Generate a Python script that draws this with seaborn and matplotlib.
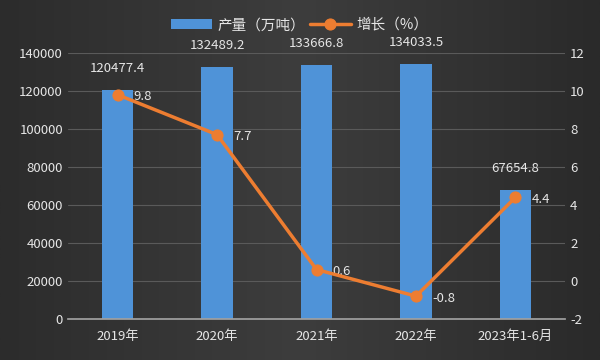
import matplotlib
matplotlib.use("Agg")
import matplotlib.pyplot as plt
import seaborn as sns
import numpy as np
import pandas as pd
from matplotlib.colors import LinearSegmentedColormap

categories = ["2019年", "2020年", "2021年", "2022年", "2023年1-6月"]
output = [120477.4, 132489.2, 133666.8, 134033.5, 67654.8]
growth = [9.8, 7.7, 0.6, -0.8, 4.4]
output_labels = ["120477.4", "132489.2", "133666.8", "134033.5", "67654.8"]
growth_labels = ["9.8", "7.7", "0.6", "-0.8", "4.4"]

sns.set_theme(style="dark")
plt.rcParams['font.family'] = ['Noto Sans CJK SC', 'DejaVu Sans']
plt.rcParams['axes.unicode_minus'] = False

fig = plt.figure(figsize=(6, 3.6), dpi=100)
bg = fig.add_axes([0, 0, 1, 1], zorder=-10)
grad = np.linspace(0, 1, 256).reshape(1, -1)
cmap = LinearSegmentedColormap.from_list("bg", ["#2c2c2c", "#3d3d3d", "#2a2a2a"])
bg.imshow(grad, aspect="auto", cmap=cmap, extent=[0, 1, 0, 1])
bg.set_axis_off()

ax = fig.add_axes([0.113, 0.114, 0.829, 0.739])
ax.patch.set_alpha(0)
df = pd.DataFrame({"cat": categories, "val": output})
sns.barplot(data=df, x="cat", y="val", color="#4f93d8", width=0.32, ax=ax,
            saturation=1, label="产量（万吨）", zorder=2, linewidth=0, edgecolor="none")
ax.set_ylim(0, 140000)
ax.set_yticks(np.arange(0, 140001, 20000))
ax.set_xlim(-0.5, 4.5)
ax.grid(axis="y", color="#5a5a5a", linewidth=0.8, zorder=0)
ax.set_axisbelow(True)
ax.set_xlabel("")
ax.set_ylabel("")
for s in ["top", "right", "left"]:
    ax.spines[s].set_visible(False)
ax.spines["bottom"].set_color("#a0a0a0")
ax.tick_params(axis="both", colors="#e0e0e0", labelsize=9.5, length=0)
for lbl in ax.get_xticklabels() + ax.get_yticklabels():
    lbl.set_color("#e6e6e6")
ax.tick_params(axis="x", pad=8)

for i, (v, t) in enumerate(zip(output, output_labels)):
    ax.text(i, v + 8000, t, ha="center", va="bottom", color="#e6e6e6", fontsize=9.5)

ax2 = ax.twinx()
sns.lineplot(x=list(range(len(categories))), y=growth, ax=ax2, color="#ed7d31",
             marker="o", markersize=8, linewidth=2.5, markeredgecolor="#ed7d31",
             label="增长（%）", zorder=5)
ax2.set_ylim(-2, 12)
ax2.set_yticks(np.arange(-2, 13, 2))
ax2.set_xlim(-0.5, 4.5)
ax2.set_ylabel("")
for s in ["top", "right", "left", "bottom"]:
    ax2.spines[s].set_visible(False)
ax2.tick_params(axis="y", colors="#e6e6e6", labelsize=9.5, length=0)
ax2.grid(False)

for i, (g, t) in enumerate(zip(growth, growth_labels)):
    ax2.text(i + 0.16, g - 0.1, t, ha="left", va="center", color="#e6e6e6", fontsize=9.5)

h1, l1 = ax.get_legend_handles_labels()
h2, l2 = ax2.get_legend_handles_labels()
if ax.get_legend():
    ax.get_legend().remove()
if ax2.get_legend():
    ax2.get_legend().remove()
leg = fig.legend(h1 + h2, l1 + l2, loc="center", bbox_to_anchor=(0.5, 0.93), ncol=2,
                 frameon=False, fontsize=10.5, handlelength=2.8, columnspacing=0.3,
                 handletextpad=0.4)
for t in leg.get_texts():
    t.set_color("#e6e6e6")

fig.savefig("out.png", dpi=100)
